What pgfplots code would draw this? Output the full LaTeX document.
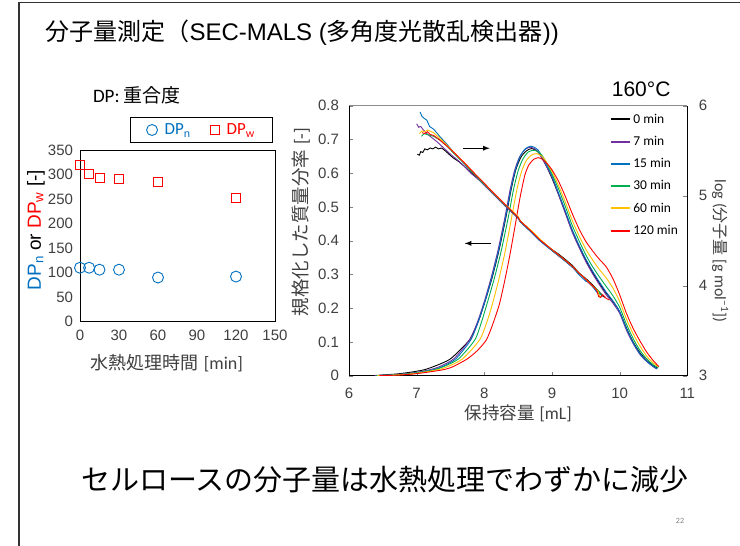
\documentclass[border=0pt]{standalone}
\usepackage{fontspec}
\usepackage{pgfplots}
\pgfplotsset{compat=1.18}
\setmainfont{Liberation Sans}
\newfontfamily\cjk{Noto Sans CJK JP}
\newfontfamily\calib{Carlito}
\definecolor{cblue}{HTML}{0070C0}
\definecolor{cpurple}{HTML}{7030A0}
\definecolor{cgreen}{HTML}{00B050}
\definecolor{cyellow}{HTML}{FFC000}
\definecolor{cred}{HTML}{FF0000}
\definecolor{txt}{HTML}{404040}
\begin{document}
\begin{tikzpicture}
\useasboundingbox (0,0) rectangle (740pt,546pt);
\fill[white] (0,0) rectangle (740pt,546pt);
\draw[line width=1.6pt, black!80] (19pt,0pt) -- (19pt,543.5pt) -- (740pt,543.5pt);
\node[anchor=west, font=\fontsize{24}{27}\selectfont] at (42pt,513pt) {{\cjk 分子量測定（}SEC-MALS ({\cjk 多角度光散乱検出器}))};
\node[font=\fontsize{19}{22}\selectfont] at (137pt,451pt) {\calib DP: {\cjk 重合度}};
\node[anchor=east, font=\fontsize{21}{24}\selectfont] at (674pt,457pt) {160°C};
\node[font=\fontsize{29}{32}\selectfont] at (385pt,66pt) {\cjk セルロースの分子量は水熱処理でわずかに減少};
\node[font=\fontsize{8}{9}\selectfont, text=gray] at (680pt,25pt) {\calib 22};

% ---------- left chart: DP ----------
\begin{axis}[at={(80pt,224.3pt)}, anchor=south west, scale only axis,
  width=195pt, height=171.7pt,
  xmin=0, xmax=150, ymin=0, ymax=350,
  xtick={0,30,...,150}, ytick={0,50,...,350},
  major tick length=0pt,
  xticklabel shift=5pt, yticklabel shift=3.5pt,
  axis line style={black, line width=0.8pt},
  tick label style={font=\fontsize{15}{17}\selectfont, text=txt},
  /pgf/number format/assume math mode=true,
  xlabel={{\cjk 水熱処理時間} {\calib [min]}},
  xlabel style={at={(axis description cs:0.446,-0.242)}, anchor=center, font=\fontsize{18}{21}\selectfont, text=txt},
  ylabel={\textcolor{cblue}{DP\textsubscript{n}} or \textcolor{cred}{DP\textsubscript{w}} [-]},
  ylabel style={at={(axis description cs:-0.226,0.534)}, anchor=center, font=\fontsize{19}{22}\selectfont},
  legend columns=2,
  legend style={at={(0.624,1.1165)}, anchor=center, draw=black, line width=0.6pt,
    inner xsep=16pt, inner ysep=4pt, font=\calib\fontsize{17}{19}\selectfont,
    /tikz/every odd column/.append style={column sep=5pt},
    /tikz/every even column/.append style={column sep=18pt}},
]
\addplot[only marks, mark=o, mark size=5.5pt, cblue, line width=0.9pt] coordinates {
(0,110) (7,110) (15,106) (30,106) (60,90) (120,92)};
\addlegendentry{\textcolor{cblue}{DP\textsubscript{n}}}
\addplot[only marks, mark=square, mark size=4.5pt, cred, line width=0.9pt] coordinates {
(0,320) (7,302) (15,294) (30,291) (60,284) (120,253)};
\addlegendentry{\textcolor{cred}{DP\textsubscript{w}}}
\end{axis}

% ---------- right chart: SEC ----------
\begin{axis}[at={(349pt,170.3pt)}, anchor=south west, scale only axis,
  width=338.3pt, height=270pt,
  xmin=6, xmax=11, ymin=0, ymax=0.8,
  xtick={6,...,11}, ytick={0,0.1,...,0.8},
  axis x line*=bottom, axis y line*=left,
  tick align=inside, major tick length=4pt,
  xticklabel shift=9pt, yticklabel shift=6.5pt,
  axis line style={black, line width=0.8pt, -},
  tick label style={font=\fontsize{15}{17}\selectfont, text=txt},
  /pgf/number format/assume math mode=true,
  xlabel={{\cjk 保持容量} {\calib [mL]}},
  xlabel style={at={(axis description cs:0.5,-0.14)}, anchor=center, font=\fontsize{17.5}{20}\selectfont, text=txt},
  ylabel={{\cjk 規格化した質量分率} {\calib [-]}},
  ylabel style={at={(axis description cs:-0.142,0.569)}, anchor=center, font=\fontsize{18.5}{21}\selectfont, text=txt},
  legend cell align=left,
  legend image code/.code={\draw[#1, line width=2pt] (0pt,0pt) -- (19pt,0pt);},
  legend style={draw=none, fill=none, at={(0.772,0.978)}, anchor=north west, inner sep=0pt,
    font=\calib\fontsize{13.5}{15}\selectfont, row sep=7.5pt},
  every axis plot/.append style={line width=0.9pt, smooth, tension=0.4, mark=none},
]
\draw[black!45, line width=0.8pt] (rel axis cs:0,1) -- (rel axis cs:1,1);
\addplot[black] coordinates {
(6.35,0) (6.55,0.003) (6.7,0.005) (6.9,0.01) (7.1,0.017) (7.25,0.027) (7.5,0.05) (7.78,0.106) (7.91,0.16) (8.01,0.22) (8.115,0.29) (8.215,0.37) (8.315,0.465) (8.395,0.55) (8.465,0.61) (8.54,0.647) (8.62,0.666) (8.70,0.673) (8.80,0.662) (8.9,0.628) (9.0,0.585) (9.1,0.535) (9.2,0.482) (9.3,0.428) (9.4,0.383) (9.5,0.342) (9.6,0.306) (9.7,0.274) (9.8,0.245) (9.9,0.22) (10.0,0.19) (10.1,0.142) (10.2,0.1) (10.3,0.068) (10.4,0.045) (10.5,0.029) (10.56,0.022)};
\addlegendentry{0 min}
\addplot[cpurple] coordinates {
(6.38,0) (6.6,0.002) (6.8,0.005) (7.0,0.01) (7.2,0.018) (7.34,0.027) (7.55,0.05) (7.78,0.106) (7.9,0.16) (8.0,0.22) (8.1,0.29) (8.2,0.37) (8.3,0.465) (8.38,0.55) (8.45,0.61) (8.52,0.648) (8.6,0.670) (8.68,0.677) (8.78,0.667) (8.9,0.627) (9.0,0.588) (9.1,0.535) (9.2,0.48) (9.3,0.425) (9.4,0.38) (9.5,0.338) (9.6,0.302) (9.7,0.27) (9.8,0.24) (9.9,0.215) (10.0,0.185) (10.1,0.135) (10.2,0.095) (10.3,0.063) (10.4,0.042) (10.5,0.026) (10.55,0.02)};
\addlegendentry{7 min}
\addplot[cblue] coordinates {
(6.40,0) (6.6,0.002) (6.85,0.005) (7.05,0.01) (7.25,0.018) (7.38,0.027) (7.58,0.05) (7.80,0.106) (7.91,0.16) (8.01,0.22) (8.11,0.29) (8.21,0.37) (8.31,0.465) (8.39,0.55) (8.46,0.61) (8.53,0.65) (8.61,0.673) (8.69,0.680) (8.79,0.670) (8.9,0.632) (9.0,0.592) (9.1,0.54) (9.2,0.487) (9.3,0.432) (9.4,0.387) (9.5,0.346) (9.6,0.31) (9.7,0.278) (9.8,0.248) (9.9,0.222) (10.0,0.19) (10.1,0.14) (10.2,0.098) (10.3,0.065) (10.4,0.043) (10.5,0.027) (10.55,0.021)};
\addlegendentry{15 min}
\addplot[cgreen] coordinates {
(6.40,0) (6.65,0.002) (6.85,0.005) (7.05,0.01) (7.27,0.018) (7.40,0.027) (7.62,0.05) (7.86,0.106) (7.96,0.16) (8.05,0.22) (8.15,0.29) (8.25,0.37) (8.35,0.465) (8.43,0.55) (8.50,0.607) (8.57,0.642) (8.65,0.663) (8.74,0.668) (8.83,0.658) (8.9,0.638) (9.0,0.598) (9.1,0.552) (9.2,0.5) (9.3,0.445) (9.4,0.4) (9.5,0.358) (9.6,0.323) (9.7,0.293) (9.8,0.265) (9.9,0.237) (10.0,0.203) (10.1,0.153) (10.2,0.11) (10.3,0.075) (10.4,0.05) (10.5,0.032) (10.57,0.024)};
\addlegendentry{30 min}
\addplot[cyellow] coordinates {
(6.42,0) (6.7,0.002) (6.9,0.005) (7.1,0.01) (7.32,0.018) (7.46,0.027) (7.68,0.05) (7.93,0.106) (8.04,0.16) (8.13,0.22) (8.22,0.29) (8.31,0.37) (8.40,0.465) (8.48,0.55) (8.55,0.605) (8.62,0.637) (8.70,0.654) (8.77,0.658) (8.84,0.652) (8.9,0.638) (9.0,0.605) (9.1,0.562) (9.2,0.513) (9.3,0.46) (9.4,0.415) (9.5,0.375) (9.6,0.343) (9.7,0.315) (9.8,0.29) (9.9,0.26) (10.0,0.22) (10.1,0.168) (10.2,0.124) (10.3,0.088) (10.4,0.058) (10.5,0.037) (10.58,0.026)};
\addlegendentry{60 min}
\addplot[cred] coordinates {
(6.45,0) (6.75,0.002) (6.95,0.005) (7.15,0.01) (7.4,0.018) (7.54,0.027) (7.75,0.05) (7.9,0.075) (8.03,0.106) (8.12,0.15) (8.22,0.21) (8.30,0.28) (8.38,0.36) (8.46,0.45) (8.53,0.53) (8.60,0.595) (8.66,0.625) (8.73,0.641) (8.80,0.646) (8.86,0.641) (8.93,0.628) (9.0,0.61) (9.1,0.575) (9.2,0.53) (9.3,0.48) (9.4,0.435) (9.5,0.398) (9.6,0.37) (9.7,0.345) (9.8,0.323) (9.9,0.288) (10.0,0.24) (10.1,0.185) (10.2,0.14) (10.3,0.103) (10.4,0.07) (10.5,0.044) (10.58,0.027)};
\addlegendentry{120 min}
\draw[-latex, line width=1.3pt] (axis cs:7.69,0.674) -- (axis cs:8.08,0.674);
\draw[-latex, line width=1.3pt] (axis cs:8.10,0.392) -- (axis cs:7.71,0.392);
\end{axis}

\begin{axis}[at={(349pt,170.3pt)}, anchor=south west, scale only axis,
  width=338.3pt, height=270pt,
  xmin=6, xmax=11, ymin=3, ymax=6,
  ytick={3,4,5,6},
  axis x line=none, axis y line*=right,
  tick align=inside, major tick length=4pt,
  yticklabel shift=8pt,
  axis line style={black, line width=0.8pt, -},
  tick label style={font=\fontsize{15}{17}\selectfont, text=txt},
  /pgf/number format/assume math mode=true,
  ylabel={\calib log ({\cjk 分子量} [g mol\textsuperscript{−1}])},
  ylabel style={at={(axis description cs:1.097,0.462)}, anchor=center, rotate=180, font=\fontsize{16}{18}\selectfont, text=txt},
  every axis plot/.append style={line width=0.9pt, mark=none},
]
\addplot[black] coordinates {
(7.01,5.46) (7.04,5.45) (7.06,5.49) (7.09,5.48) (7.12,5.52) (7.16,5.51) (7.2,5.53) (7.24,5.52) (7.28,5.54) (7.32,5.52) (7.37,5.53) (7.42,5.50) (7.48,5.46) (7.54,5.42) (7.62,5.38) (7.7,5.33) (7.8,5.26) (7.93,5.17) (8.1,5.05) (8.3,4.90) (8.5,4.75) (8.53,4.72) (8.7,4.60) (8.82,4.51) (9.0,4.40) (9.1,4.35) (9.2,4.29) (9.31,4.22) (9.4,4.14) (9.5,4.08) (9.6,4.01) (9.7,3.93) (9.78,3.87)};
\addplot[cpurple] coordinates {
(7.0,5.80) (7.03,5.76) (7.06,5.77) (7.1,5.73) (7.15,5.69) (7.2,5.66) (7.3,5.60) (7.4,5.53) (7.5,5.46) (7.6,5.40) (7.7,5.33) (7.8,5.25) (7.93,5.17) (8.1,5.04) (8.3,4.89) (8.5,4.75) (8.53,4.71) (8.7,4.59) (8.82,4.50) (9.0,4.39) (9.2,4.27) (9.31,4.20) (9.4,4.13) (9.45,4.11) (9.5,4.06) (9.6,3.99) (9.7,3.92) (9.75,3.88)};
\addplot[cblue] coordinates {
(7.05,5.93) (7.08,5.88) (7.11,5.86) (7.15,5.84) (7.19,5.77) (7.25,5.74) (7.34,5.66) (7.45,5.57) (7.55,5.48) (7.7,5.36) (7.8,5.28) (7.93,5.18) (8.1,5.05) (8.3,4.90) (8.5,4.75) (8.53,4.71) (8.7,4.59) (8.82,4.50) (9.0,4.39) (9.2,4.27) (9.31,4.20) (9.4,4.12) (9.5,4.05) (9.55,4.04) (9.6,3.99) (9.66,3.93) (9.72,3.90)};
\addplot[cgreen] coordinates {
(7.07,5.66) (7.11,5.69) (7.15,5.68) (7.2,5.67) (7.25,5.66) (7.34,5.62) (7.45,5.55) (7.55,5.47) (7.7,5.36) (7.8,5.28) (7.93,5.18) (8.1,5.05) (8.3,4.90) (8.5,4.76) (8.53,4.72) (8.7,4.60) (8.82,4.51) (9.0,4.40) (9.2,4.28) (9.31,4.21) (9.4,4.14) (9.5,4.07) (9.6,4.00) (9.68,3.95) (9.72,3.90) (9.76,3.89)};
\addplot[cyellow] coordinates {
(7.04,5.69) (7.08,5.72) (7.12,5.71) (7.16,5.73) (7.25,5.70) (7.34,5.64) (7.45,5.56) (7.55,5.48) (7.7,5.37) (7.8,5.29) (7.93,5.19) (8.1,5.06) (8.3,4.91) (8.5,4.77) (8.53,4.72) (8.7,4.61) (8.82,4.52) (9.0,4.40) (9.2,4.28) (9.31,4.21) (9.4,4.14) (9.5,4.07) (9.6,4.00) (9.68,3.94) (9.71,3.87) (9.74,3.88)};
\addplot[cred] coordinates {
(7.08,5.70) (7.12,5.69) (7.16,5.71) (7.2,5.68) (7.25,5.67) (7.34,5.62) (7.45,5.55) (7.55,5.48) (7.7,5.37) (7.8,5.29) (7.93,5.19) (8.1,5.06) (8.3,4.91) (8.5,4.76) (8.53,4.72) (8.7,4.60) (8.82,4.51) (9.0,4.40) (9.2,4.28) (9.31,4.21) (9.4,4.14) (9.5,4.07) (9.6,4.00) (9.66,3.95) (9.69,3.88) (9.72,3.87) (9.75,3.90) (9.8,3.86) (9.85,3.84)};
\end{axis}
\end{tikzpicture}
\end{document}
